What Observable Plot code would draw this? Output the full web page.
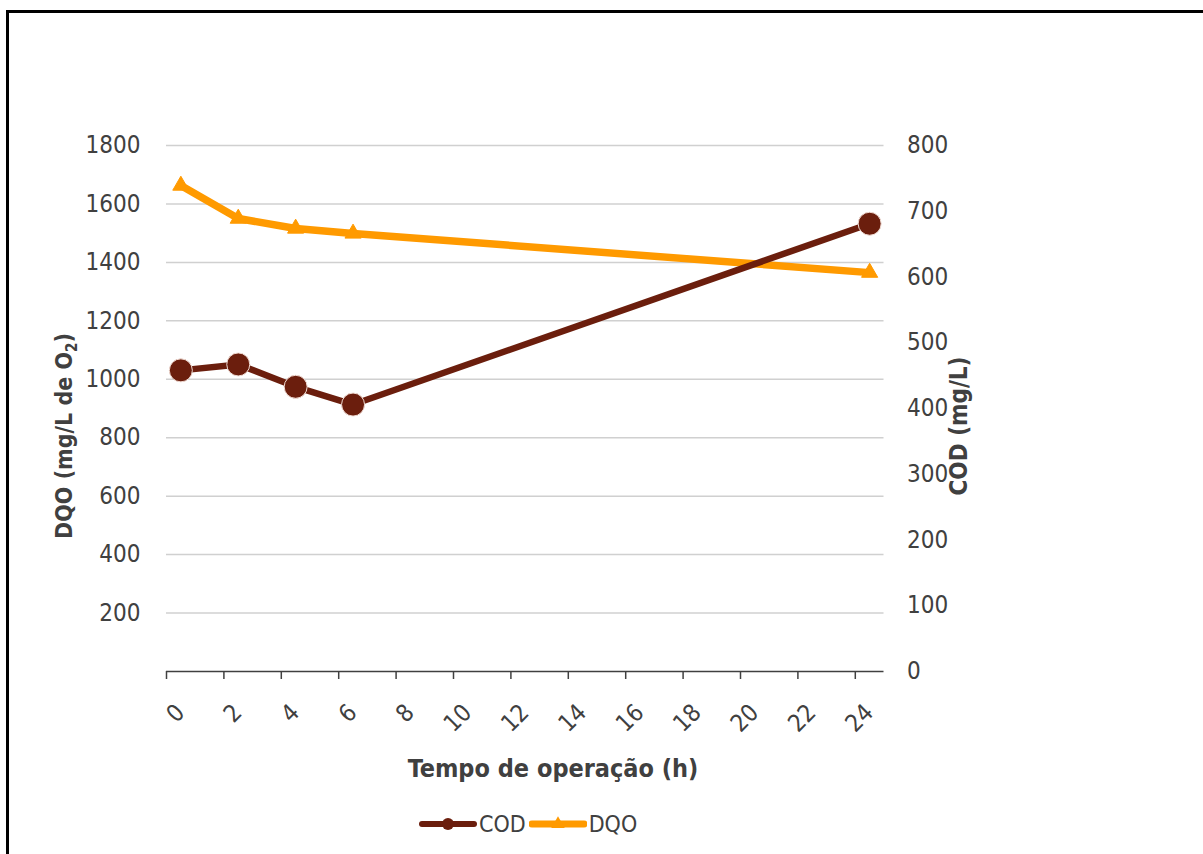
<!DOCTYPE html>
<html>
<head>
<meta charset="utf-8">
<script src="https://cdn.jsdelivr.net/npm/d3@7"></script>
<script src="https://cdn.jsdelivr.net/npm/@observablehq/plot@0.6"></script>
<style>
  html, body { margin: 0; padding: 0; background: #fff; }
  body { width: 1203px; height: 854px; overflow: hidden; position: relative;
         font-family: "DejaVu Sans Condensed", "DejaVu Sans", sans-serif; color: #404040; }
  #frame { position: absolute; left: 6px; top: 10px; width: 1400px; height: 1000px;
           border: 3px solid #000; pointer-events: none; }
  #chart { position: absolute; left: 0; top: 0; }
  #legend { position: absolute; left: 419px; top: 811px; display: flex; align-items: center;
            font-size: 23px; color: #404040; }
  #legend svg { display: block; }
  #legend span { margin-left: 2px; margin-right: 3px; }
</style>
</head>
<body>
<div id="frame"></div>
<div id="chart"></div>
<div id="legend"></div>
<script>
// Operating time (h) of each sample
const hours = [0, 2, 4, 6, 24];
// COD, mg/L (right axis)
const cod = [458, 467, 433, 406, 681];
// DQO, mg/L de O2 (left axis)
const dqo = [1663, 1550, 1516, 1499, 1365];

// Axis ticks
const hourTicks = [0, 2, 4, 6, 8, 10, 12, 14, 16, 18, 20, 22, 24];
const dqoTicks = [200, 400, 600, 800, 1000, 1200, 1400, 1600, 1800];
const codTicks = [0, 100, 200, 300, 400, 500, 600, 700, 800];

const brown = "#6b1e0d";
const orange = "#ff9a00";
const ink = "#404040";

// The right axis (0–800) shares the plot height with the left axis (0–1800)
const dqoPerCod = 1800 / 800;

const rows = hours.map((h, i) => ({hour: h, cod: cod[i], dqo: dqo[i]}));
// Samples sit in the middle of their hour slot on the time axis
const xPos = d => d.hour + 0.5;

const chart = Plot.plot({
  width: 1203,
  height: 800,
  marginLeft: 166,
  marginRight: 319.5,
  marginTop: 145,
  marginBottom: 129,
  style: {fontFamily: '"DejaVu Sans Condensed", "DejaVu Sans", sans-serif', color: ink, background: "transparent", overflow: "visible"},
  x: {domain: [0, 25]},
  y: {domain: [0, 1800]},
  marks: [
    Plot.gridY(dqoTicks, {stroke: "#d0d0d0", strokeOpacity: 1, strokeWidth: 1.5}),
    Plot.ruleY([0], {stroke: ink, strokeWidth: 1.5}),
    Plot.axisY(dqoTicks, {anchor: "left", tickSize: 0, tickPadding: 26, fontSize: 24, label: null,
      tickFormat: v => String(v)}),
    Plot.axisY(codTicks.map(v => v * dqoPerCod), {
      anchor: "right", tickSize: 0, tickPadding: 23, fontSize: 24, label: null,
      tickFormat: v => String(Math.round(v / dqoPerCod))
    }),
    Plot.axisX(hourTicks, {anchor: "bottom", tickSize: 8, fill: "none", stroke: ink, strokeWidth: 1.5, label: null}),
    Plot.axisX(hourTicks, {anchor: "bottom", tickSize: 0, tickPadding: 37, tickRotate: -45, dx: 14, fontSize: 24, label: null,
      tickFormat: v => String(v)}),
    Plot.line(rows, {x: xPos, y: "dqo", stroke: orange, strokeWidth: 7.5}),
    Plot.dot(rows, {x: xPos, y: "dqo", symbol: "triangle", r: 6, fill: orange, stroke: orange, strokeWidth: 1}),
    Plot.line(rows, {x: xPos, y: d => d.cod * dqoPerCod, stroke: brown, strokeWidth: 6.5}),
    Plot.dot(rows, {x: xPos, y: d => d.cod * dqoPerCod, r: 11.5, fill: brown, stroke: "#f1dcd4", strokeWidth: 1})
  ]
});

// Axis titles
const svg = d3.select(chart);
const titleFont = '"DejaVu Sans Condensed", "DejaVu Sans", sans-serif';
svg.append("text")
  .attr("transform", "translate(553,777)")
  .attr("text-anchor", "middle")
  .attr("font-family", titleFont).attr("font-weight", "bold").attr("font-size", 25)
  .attr("fill", ink)
  .text("Tempo de operação (h)");

const leftTitle = svg.append("text")
  .attr("transform", "translate(72,436) rotate(-90)")
  .attr("text-anchor", "middle")
  .attr("font-family", titleFont).attr("font-weight", "bold").attr("font-size", 23)
  .attr("fill", ink);
leftTitle.append("tspan").text("DQO (mg/L de O");
leftTitle.append("tspan").attr("font-size", 15).attr("dy", 5).text("2");
leftTitle.append("tspan").attr("dy", -5).text(")");

svg.append("text")
  .attr("transform", "translate(967,426) rotate(-90)")
  .attr("text-anchor", "middle")
  .attr("font-family", titleFont).attr("font-weight", "bold").attr("font-size", 24)
  .attr("fill", ink)
  .text("COD (mg/L)");

document.getElementById("chart").append(chart);

// Legend below the plot
const legend = d3.select("#legend");
function swatch(color, width, marker) {
  const s = legend.append("svg").attr("width", 58).attr("height", 22);
  s.append("line").attr("x1", 3).attr("x2", 55).attr("y1", 11).attr("y2", 11)
    .attr("stroke", color).attr("stroke-width", width).attr("stroke-linecap", "round");
  if (marker === "circle") {
    s.append("circle").attr("cx", 29).attr("cy", 11).attr("r", 6).attr("fill", color);
  } else {
    s.append("path").attr("d", d3.symbol(d3.symbolTriangle, 80)()).attr("transform", "translate(29,11)").attr("fill", color);
  }
}
swatch(brown, 6, "circle");
legend.append("span").text("COD");
swatch(orange, 7, "triangle");
legend.append("span").text("DQO");
</script>
</body>
</html>
